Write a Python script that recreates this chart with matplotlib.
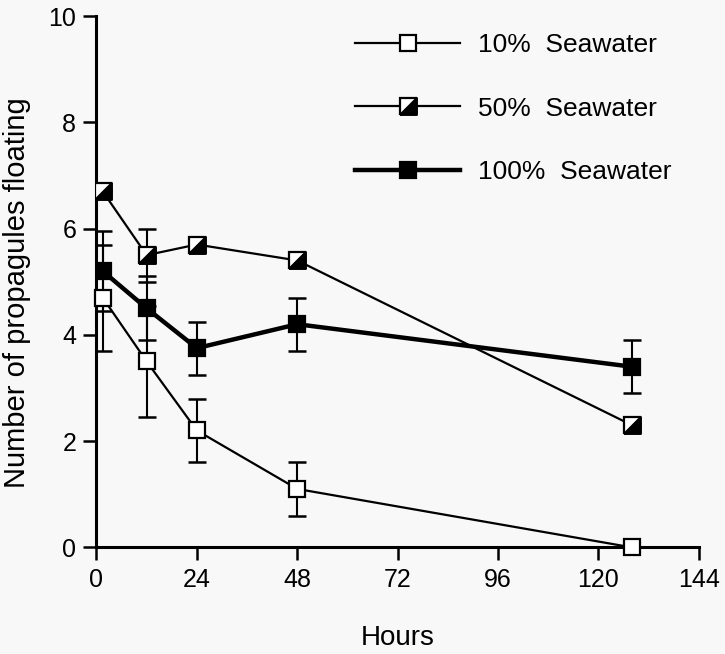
import matplotlib.pyplot as plt
from matplotlib.lines import Line2D
from matplotlib.legend_handler import HandlerTuple

plt.rcParams['font.family'] = ['Liberation Sans', 'DejaVu Sans']

# sampling times (hours) and mean number of propagules still floating
hours = [1.5, 12, 24, 48, 128]
sw10 = [4.7, 3.5, 2.2, 1.1, 0.0]
err10 = [1.0, 1.05, 0.6, 0.5, 0.0]
sw50 = [6.7, 5.5, 5.7, 5.4, 2.3]
err50 = [0.0, 0.5, 0.0, 0.0, 0.0]
sw100 = [5.2, 4.5, 3.75, 4.2, 3.4]
err100 = [0.75, 0.6, 0.5, 0.5, 0.5]

labels = ['10%  Seawater', '50%  Seawater', '100%  Seawater']
xticks = [0, 24, 48, 72, 96, 120, 144]
yticks = [0, 2, 4, 6, 8, 10]

bg = '#f8f8f8'
fig = plt.figure(figsize=(7.25, 6.54), dpi=100, facecolor=bg)
ax = fig.add_axes([0.133, 0.163, 0.831, 0.8125], facecolor=bg)

ms = 12
mew = 1.6
cap = 6.5
# lower-right black half of the 50% marker
tri = [(-1, -1), (1, -1), (1, 1), (-1, -1)]

# error bars first so the markers sit on top
for y, e in [(sw10, err10), (sw50, err50), (sw100, err100)]:
    ax.errorbar(hours, y, yerr=e, fmt='none', ecolor='black', elinewidth=1.5,
                capsize=cap, capthick=1.8, zorder=2)

ax.plot(hours, sw10, color='black', lw=1.6, marker='s', ms=ms,
        mfc='white', mec='black', mew=mew, zorder=3, clip_on=False)
ax.plot(hours, sw50, color='black', lw=1.6, marker='s', ms=ms,
        mfc='white', mec='black', mew=mew, zorder=3)
ax.plot(hours, sw50, ls='none', marker=tri, ms=ms, mfc='black',
        mec='black', mew=mew, zorder=4)
ax.plot(hours, sw100, color='black', lw=3.2, marker='s', ms=ms,
        mfc='black', mec='black', mew=mew, zorder=5)

ax.set_xlim(0, 144)
ax.set_ylim(0, 10)
ax.set_xticks(xticks)
ax.set_yticks(yticks)
for s in ['top', 'right']:
    ax.spines[s].set_visible(False)
for s in ['left', 'bottom']:
    ax.spines[s].set_linewidth(2.2)
ax.tick_params(axis='both', direction='out', length=9.5, width=1.8,
               labelsize=18, pad=5)
ax.set_xlabel('Hours', fontsize=20, labelpad=24)
ax.set_ylabel('Number of propagules floating', fontsize=21)
ax.yaxis.set_label_coords(-0.108, 0.48)

# legend handles
h10 = Line2D([], [], color='black', lw=1.6, marker='s', ms=ms,
             mfc='white', mec='black', mew=mew)
h50a = Line2D([], [], color='black', lw=1.6, marker='s', ms=ms,
              mfc='white', mec='black', mew=mew)
h50b = Line2D([], [], ls='none', marker=tri, ms=ms, mfc='black',
              mec='black', mew=mew)
h100 = Line2D([], [], color='black', lw=3.2, marker='s', ms=ms,
              mfc='black', mec='black', mew=mew)
ax.legend([h10, (h50a, h50b), h100], labels,
          handler_map={tuple: HandlerTuple(ndivide=1, pad=0)},
          loc='upper left', bbox_to_anchor=(0.429, 0.968), borderaxespad=0,
          borderpad=0, frameon=False, fontsize=19, handlelength=4.0,
          handletextpad=0.68, labelspacing=1.5, numpoints=1)

fig.savefig('out.png', dpi=100, facecolor=bg)
